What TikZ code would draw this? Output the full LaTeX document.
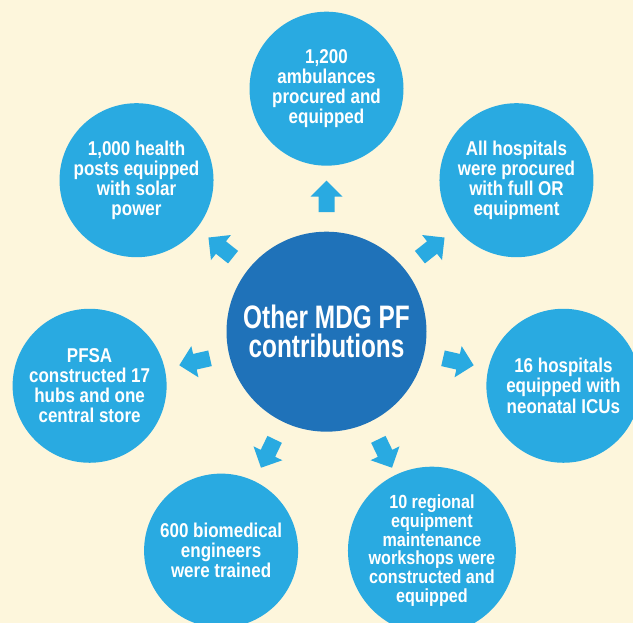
\documentclass[tikz,border=0pt]{standalone}
\usepackage{fontspec}
\usetikzlibrary{calc}
\newfontfamily\leaffont[FakeStretch=0.85]{Liberation Sans}
\newfontfamily\hubfont[FakeStretch=0.75]{Liberation Sans}
\definecolor{bgcream}{HTML}{FDF6DC}
\definecolor{leafblue}{HTML}{29AAE1}
\definecolor{hubblue}{HTML}{1F72B9}
\begin{document}
\begin{tikzpicture}[x=1pt,y=1pt,
  hub/.style={circle, fill=hubblue, minimum size=200pt, inner sep=0pt, text=white, align=center,
    font=\hubfont\bfseries\fontsize{32.5}{29}\selectfont},
  leaf/.style={circle, fill=leafblue, minimum size=154pt, inner sep=0pt, text=white, align=center,
    font=\leaffont\bfseries\fontsize{20}{20.2}\selectfont},
  smallleaf/.style={leaf, font=\leaffont\bfseries\fontsize{19}{18.7}\selectfont},
  blockarrow/.style={fill=leafblue}]
\useasboundingbox (0,0) rectangle (633,623);
\clip (0,0) rectangle (633,623);
\fill[bgcream] (0,0) rectangle (633,623);
\node[hub] (c) at (326.5,291.3) {Other MDG PF\\contributions};
\node[leaf] (n1) at ($(c)+(90:243)$) {1,200\\ambulances\\procured and\\equipped};
\node[leaf] (n2) at ($(c)+(141.43:243)$) {1,000 health\\posts equipped\\with solar\\power};
\node[leaf] (n3) at ($(c)+(192.86:243)$) {PFSA\\constructed 17\\hubs and one\\central store};
\node[leaf] (n4) at ($(c)+(244.29:243)$) {600 biomedical\\engineers\\were trained};
\node[smallleaf] (n5) at ($(c)+(295.71:243)$) {10 regional\\equipment\\maintenance\\workshops were\\constructed and\\equipped};
\node[leaf] (n6) at ($(c)+(347.14:243)$) {16 hospitals\\equipped with\\neonatal ICUs};
\node[leaf] (n7) at ($(c)+(38.57:243)$) {All hospitals\\were procured\\with full OR\\equipment};
\foreach \k in {1,...,7}{
  \coordinate (a\k) at ($(c)!119.5pt!(n\k)$);
  \coordinate (h\k) at ($(c)!135pt!(n\k)$);
  \coordinate (t\k) at ($(c)!151pt!(n\k)$);
  \fill[blockarrow] ($(a\k)!8pt!90:(n\k)$) -- ($(h\k)!8pt!90:(n\k)$) -- ($(h\k)!16pt!90:(n\k)$)
    -- (t\k) -- ($(h\k)!16pt!-90:(n\k)$) -- ($(h\k)!8pt!-90:(n\k)$) -- ($(a\k)!8pt!-90:(n\k)$) -- cycle;
}
\end{tikzpicture}
\end{document}
